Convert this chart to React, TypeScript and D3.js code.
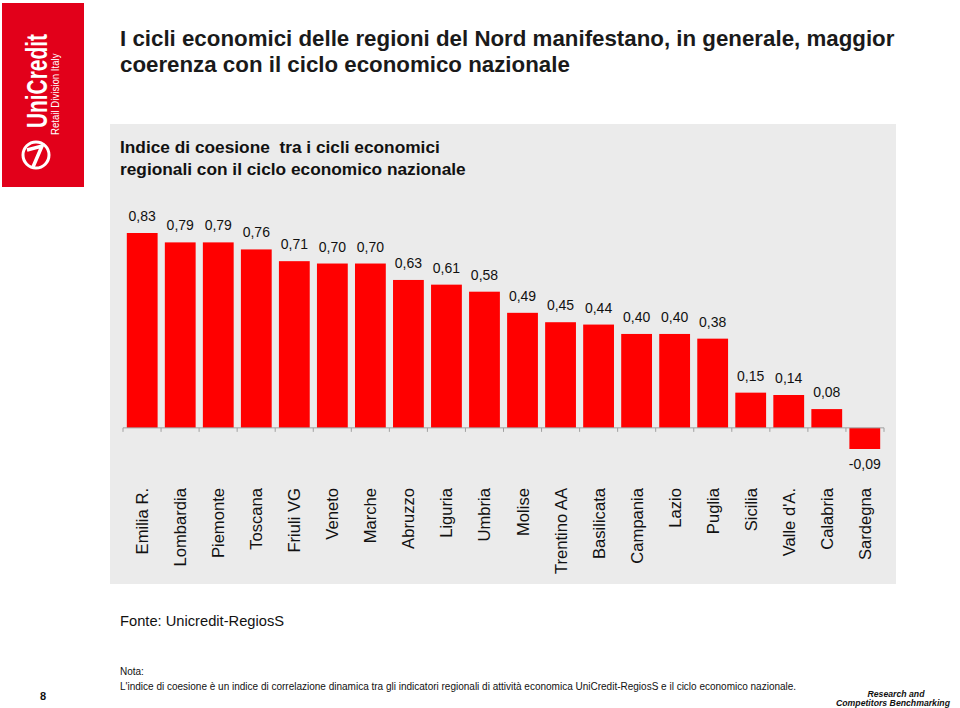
import React from "react";
import * as d3 from "d3";

const regions = ["Emilia R.", "Lombardia", "Piemonte", "Toscana", "Friuli VG", "Veneto", "Marche", "Abruzzo", "Liguria", "Umbria", "Molise", "Trentino AA", "Basilicata", "Campania", "Lazio", "Puglia", "Sicilia", "Valle d'A.", "Calabria", "Sardegna"];
const cohesion = [0.83, 0.79, 0.79, 0.76, 0.71, 0.70, 0.70, 0.63, 0.61, 0.58, 0.49, 0.45, 0.44, 0.40, 0.40, 0.38, 0.15, 0.14, 0.08, -0.09];
const titleLines = ["I cicli economici delle regioni del Nord manifestano, in generale, maggior", "coerenza con il ciclo economico nazionale"];
const subtitleLines = ["Indice di coesione  tra i cicli economici", "regionali con il ciclo economico nazionale"];

const W = 960, H = 708;
const FONT = "Liberation Sans, Arial, sans-serif";

export default function App() {
  const x = d3.scaleBand<string>().domain(regions).range([123, 884]).paddingInner(0.19).paddingOuter(0.1);
  const y = d3.scaleLinear().domain([-0.09, 0.83]).range([449, 233]);
  const fmt = (v: number) => d3.format(".2f")(v).replace(".", ",").replace("\u2212", "-");
  const boundaries = d3.range(regions.length + 1).map(i => 123 + i * (761 / regions.length));
  const y0 = y(0);
  return (
    <svg width={W} height={H} style={{ position: "absolute", left: 0, top: 0, background: "#fff" }} fontFamily={FONT}>
      {/* logo */}
      <rect x={2} y={3} width={82} height={184} fill="#e2001a" />
      <text transform="translate(47,128) rotate(-90) scale(0.72,1)" fill="#fff" fontSize={29} fontWeight="bold">UniCredit</text>
      <text transform="translate(59,135) rotate(-90) scale(0.84,1)" fill="#fff" fontSize={11.5}>Retail Division Italy</text>
      <circle cx={36} cy={155} r={13} fill="none" stroke="#fff" strokeWidth={3} />
      <path d="M27,150 L42,146 L33,167" fill="none" stroke="#fff" strokeWidth={3.5} />

      {titleLines.map((t, i) => (
        <text key={i} x={120} y={46 + i * 26} fontSize={22.3} fontWeight="bold" fill="#1a1a1a">{t}</text>
      ))}

      <rect x={110} y={124} width={786} height={460} fill="#ebebeb" />
      {subtitleLines.map((t, i) => (
        <text key={i} x={120} y={153 + i * 22} fontSize={17.3} fontWeight="bold" fill="#111" style={{ whiteSpace: "pre" }}>{t}</text>
      ))}

      {regions.map((r, i) => {
        const v = cohesion[i];
        const bx = x(r)!;
        const top = y(Math.max(0, v));
        const bot = y(Math.min(0, v));
        const cx = bx + x.bandwidth() / 2;
        return (
          <g key={r}>
            <rect x={bx} y={top} width={x.bandwidth()} height={bot - top} fill="#ff0000" />
            <text x={cx} y={v >= 0 ? top - 12 : bot + 20} textAnchor="middle" fontSize={14} fill="#111">{fmt(v)}</text>
            <text transform={`translate(${cx + 6},488) rotate(-90)`} textAnchor="end" fontSize={16.6} fill="#111">{r}</text>
          </g>
        );
      })}
      <line x1={123} x2={884} y1={y0} y2={y0} stroke="#a0a0a0" strokeWidth={1} />
      {boundaries.map((b, i) => (
        <line key={i} x1={b} x2={b} y1={y0} y2={y0 + 4} stroke="#a0a0a0" strokeWidth={1} />
      ))}

      <text x={120} y={626} fontSize={14.7} fill="#111">Fonte: Unicredit-RegiosS</text>
      <text x={120} y={675} fontSize={10} fill="#111">Nota:</text>
      <text x={120} y={690} fontSize={10} fill="#111">L'indice di coesione è un indice di correlazione dinamica tra gli indicatori regionali di attività economica UniCredit-RegiosS e il ciclo economico nazionale.</text>
      <text x={40} y={700} fontSize={11} fontWeight="bold" fill="#111">8</text>
      <text x={896} y={697} textAnchor="middle" fontSize={8.7} fontWeight="bold" fontStyle="italic" fill="#111">Research and</text>
      <text x={893} y={706} textAnchor="middle" fontSize={8.7} fontWeight="bold" fontStyle="italic" fill="#111">Competitors Benchmarking</text>
    </svg>
  );
}
